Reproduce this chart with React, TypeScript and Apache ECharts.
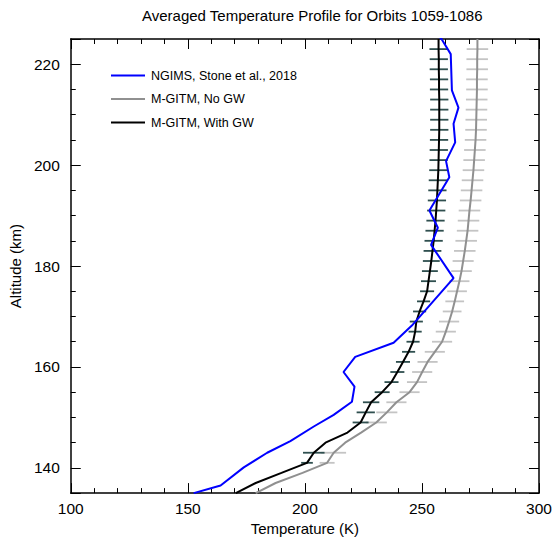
import React, { useEffect, useRef } from "react";
import * as echarts from "echarts";

const TITLE = "Averaged Temperature Profile for Orbits 1059-1086";
const X_NAME = "Temperature (K)";
const Y_NAME = "Altitude (km)";
const X_MIN = 100;
const X_MAX = 300;
const X_STEP = 50;
const Y_MIN = 135;
const Y_MAX = 225;
const Y_STEP = 20;

const NAME_NGIMS = "NGIMS, Stone et al., 2018";
const NAME_NOGW = "M-GITM, No GW";
const NAME_WITHGW = "M-GITM, With GW";

// NGIMS observed profile (altitude km, temperature K)
const ngimsAlt = [135.0, 136.5, 140.1, 143.0, 145.3, 148.2, 150.5, 153.1, 156.1, 159.0, 162.0, 164.8, 168.2, 177.6, 184.2, 187.6, 191.0, 197.6, 200.8, 204.5, 208.2, 211.4, 214.8, 222.0, 224.9, 225.5];
const ngimsTemp = [152.5, 164.0, 173.9, 183.9, 193.8, 203.8, 212.3, 220.1, 221.2, 216.5, 221.5, 237.9, 245.7, 263.5, 253.9, 256.8, 253.2, 261.7, 260.3, 264.2, 263.5, 265.6, 262.8, 262.3, 258.5, 257.3];

// M-GITM model levels (km)
const modelAlt = [135, 137, 139, 141, 143, 145, 147, 149, 151, 153, 155, 157, 159, 161, 163, 165, 167, 169, 171, 173, 175, 177, 179, 181, 183, 185, 187, 189, 191, 193, 195, 197, 199, 201, 203, 205, 207, 209, 211, 213, 215, 217, 219, 221, 223, 225];
const noGW = [179.0, 187.5, 199.0, 209.5, 212.3, 217.2, 224.0, 230.5, 235.0, 239.1, 244.7, 247.9, 250.1, 252.4, 255.5, 258.6, 260.2, 261.6, 262.9, 264.0, 265.0, 266.0, 266.9, 267.6, 268.3, 268.9, 269.5, 269.9, 270.3, 270.8, 271.2, 271.6, 272.0, 272.3, 272.6, 272.9, 273.1, 273.2, 273.3, 273.4, 273.5, 273.5, 273.6, 273.6, 273.7, 273.7];
const withGW = [170.5, 179.0, 190.0, 200.9, 203.8, 208.8, 218.2, 223.8, 226.0, 228.3, 233.0, 237.0, 239.5, 241.9, 244.3, 246.2, 247.1, 247.6, 249.0, 250.7, 252.2, 252.8, 253.4, 254.0, 254.5, 255.0, 255.4, 255.8, 256.1, 256.4, 256.6, 256.8, 257.0, 257.1, 257.2, 257.3, 257.4, 257.4, 257.4, 257.4, 257.3, 257.3, 257.2, 257.2, 257.1, 257.1];
// half-widths of the horizontal variability bars (K); 0 = no bar
const noGWErr = [0, 0, 0, 3.2, 5.3, 0, 0, 4.5, 4.5, 4.3, 4.3, 4.3, 4.3, 4.3, 4.3, 4.3, 4.3, 4.3, 4.0, 4.0, 4.2, 4.3, 4.4, 4.5, 4.6, 4.6, 4.6, 4.6, 4.6, 4.6, 4.6, 4.6, 4.6, 4.6, 4.6, 4.6, 4.6, 4.6, 4.6, 4.6, 4.6, 4.6, 4.6, 4.6, 4.6, 0];
const withGWErr = [0, 0, 0, 2.5, 4.6, 0, 0, 3.4, 3.9, 3.5, 3.2, 3.0, 3.0, 3.0, 2.8, 2.8, 2.8, 2.8, 2.8, 2.8, 3.0, 3.2, 3.4, 3.6, 3.8, 3.9, 3.9, 3.9, 3.9, 3.9, 3.9, 3.9, 3.9, 3.9, 3.9, 3.9, 3.9, 3.9, 3.9, 3.9, 3.9, 3.9, 3.9, 3.9, 3.9, 0];

const FONT = '"Liberation Sans", Arial, Helvetica, sans-serif';

function barData(temps: number[], errs: number[]) {
  const out: number[][] = [];
  for (let i = 0; i < modelAlt.length; i++) {
    if (errs[i] > 0) out.push([temps[i], errs[i], modelAlt[i]]);
  }
  return out;
}

function barSeries(temps: number[], errs: number[], color: string) {
  return {
    type: "custom",
    clip: true,
    silent: true,
    encode: { x: 0, y: 2 },
    data: barData(temps, errs),
    renderItem: (params: any, api: any) => {
      const t = api.value(0);
      const e = api.value(1);
      const a = api.value(2);
      const p1 = api.coord([t - e, a]);
      const p2 = api.coord([t + e, a]);
      return {
        type: "line",
        shape: { x1: p1[0], y1: p1[1], x2: p2[0], y2: p2[1] },
        style: { stroke: color, lineWidth: 1.8 },
      };
    },
    z: 1,
  };
}

export default function App() {
  const ref = useRef<HTMLDivElement>(null);
  useEffect(() => {
    if (!ref.current) return;
    const chart = echarts.init(ref.current, null, { renderer: "svg" });
    const axisLine = { show: true, onZero: false, lineStyle: { color: "#000", width: 1.5 } };
    const xCommon = {
      type: "value",
      min: X_MIN,
      max: X_MAX,
      interval: X_STEP,
      axisLine,
      axisTick: { show: true, inside: true, length: 10, lineStyle: { color: "#000", width: 1 } },
      minorTick: { show: true, splitNumber: 5, length: 5, lineStyle: { color: "#000", width: 1 } },
      splitLine: { show: false },
      minorSplitLine: { show: false },
    };
    const yCommon = {
      type: "value",
      min: Y_MIN,
      max: Y_MAX,
      splitNumber: 5,
      minInterval: Y_STEP,
      maxInterval: Y_STEP,
      axisLine,
      axisTick: { show: true, inside: true, length: 10, lineStyle: { color: "#000", width: 1 } },
      minorTick: { show: true, splitNumber: 4, length: 5, lineStyle: { color: "#000", width: 1 } },
      splitLine: { show: false },
      minorSplitLine: { show: false },
    };
    chart.setOption({
      animation: false,
      backgroundColor: "#fff",
      textStyle: { fontFamily: FONT },
      title: {
        text: TITLE,
        left: 137,
        top: 3,
        textStyle: { fontSize: 15, fontWeight: "normal", color: "#000", fontFamily: FONT },
      },
      legend: {
        data: [NAME_NGIMS, NAME_NOGW, NAME_WITHGW],
        orient: "vertical",
        left: 106,
        top: 64,
        icon: "rect",
        itemWidth: 34,
        itemHeight: 2,
        itemGap: 10.5,
        textStyle: { fontSize: 12.5, color: "#000", fontFamily: FONT, padding: [0, 0, 0, 1] },
      },
      grid: { left: 70, right: 20, top: 39, bottom: 44 },
      xAxis: [
        {
          ...xCommon,
          position: "bottom",
          axisLabel: { show: true, fontSize: 15.5, color: "#000", margin: 7, fontFamily: FONT },
          name: X_NAME,
          nameLocation: "middle",
          nameGap: 24,
          nameTextStyle: { fontSize: 15, color: "#000", fontFamily: FONT },
        },
        { ...xCommon, position: "top", axisLabel: { show: false } },
      ],
      yAxis: [
        {
          ...yCommon,
          position: "left",
          axisLabel: { show: true, fontSize: 15.5, color: "#000", margin: 11, showMinLabel: false, showMaxLabel: false, fontFamily: FONT },
          name: Y_NAME,
          nameLocation: "middle",
          nameGap: 30,
          nameRotate: 90,
          nameTextStyle: { fontSize: 15, color: "#000", fontFamily: FONT },
        },
        { ...yCommon, position: "right", axisLabel: { show: false } },
      ],
      series: [
        barSeries(noGW, noGWErr, "#c4c4c4"),
        barSeries(withGW, withGWErr, "#2f4f4f"),
        {
          name: NAME_NOGW,
          type: "line",
          data: modelAlt.map((a, i) => [noGW[i], a]),
          symbol: "none",
          lineStyle: { color: "#909090", width: 2 },
          itemStyle: { color: "#909090" },
          z: 2,
        },
        {
          name: NAME_WITHGW,
          type: "line",
          data: modelAlt.map((a, i) => [withGW[i], a]),
          symbol: "none",
          lineStyle: { color: "#000", width: 2 },
          itemStyle: { color: "#000" },
          z: 3,
        },
        {
          name: NAME_NGIMS,
          type: "line",
          data: ngimsAlt.map((a, i) => [ngimsTemp[i], a]),
          symbol: "none",
          lineStyle: { color: "#0000ff", width: 2 },
          itemStyle: { color: "#0000ff" },
          z: 4,
        },
      ],
    });
    return () => chart.dispose();
  }, []);
  return <div ref={ref} style={{ position: "absolute", left: 0, top: 0, width: 559, height: 541 }} />;
}
